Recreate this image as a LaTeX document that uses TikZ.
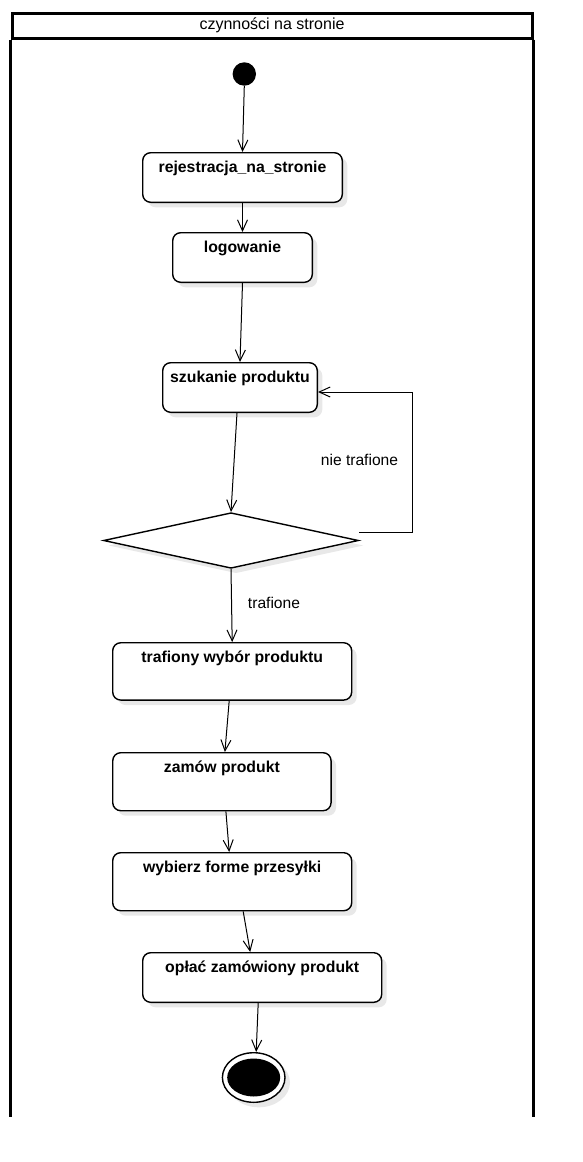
\documentclass[tikz,border=0pt]{standalone}
\usepackage{fontspec}
\setmainfont{Liberation Sans}
\usetikzlibrary{shapes.geometric,arrows.meta,shadows}
\begin{document}
\begin{tikzpicture}[x=1pt,y=-1pt,
  lanestyle/.style={line width=3pt},
  actbox/.style={draw, line width=1.4pt, rounded corners=8pt, fill=white, inner sep=0pt,
    font=\fontsize{15.8}{18}\selectfont\bfseries, text height=20pt,
    drop shadow={shadow xshift=5pt, shadow yshift=-5pt, opacity=0.09, fill=black}},
  arr/.style={line width=1pt, -{Straight Barb[length=11pt,width=10pt,line width=1pt]}},
  lbl/.style={font=\fontsize{15.6}{18}\selectfont, inner sep=0pt, anchor=base}]
\useasboundingbox (0,0) rectangle (582,1162);
\fill[white] (0,0) rectangle (582,1162);

% swimlane
\node[lanestyle, draw, minimum width=520pt, minimum height=25pt, inner sep=0pt,
  text height=16.3pt, text depth=8.7pt, font=\fontsize{16}{18}\selectfont] (lane) at (272,25.5) {czynności na stronie};
\draw[lanestyle] (lane.south west) -- ++(0,1077);
\draw[lanestyle] (lane.south east) -- ++(0,1077);

% start
\node[circle, fill=black, minimum size=23.4pt, inner sep=0pt] (start) at (244.3,74) {};

% activities
\node[actbox, minimum width=199.6pt, text depth=29.6pt] (reg) at (242.5,177.5) {rejestracja\_na\_stronie};
\node[actbox, minimum width=139.6pt, text depth=29.6pt] (log) at (242.5,257.5) {logowanie};
\node[actbox, minimum width=154.6pt, text depth=29.6pt] (szuk) at (240,387.5) {szukanie produktu};
\node[diamond, draw, line width=1.4pt, fill=white, minimum width=255pt, minimum height=55.6pt, inner sep=0pt,
  drop shadow={shadow xshift=5pt, shadow yshift=-5pt, opacity=0.09, fill=black}] (dec) at (231,540.5) {};
\node[actbox, minimum width=239pt, text depth=37.3pt] (traf) at (232.2,671.4) {trafiony wybór produktu};
\node[actbox, minimum width=218.3pt, text depth=38pt] (zam) at (221.9,781.7) {zamów produkt};
\node[actbox, minimum width=239pt, text depth=38pt] (wyb) at (232.2,881.7) {wybierz forme przesyłki};
\node[actbox, minimum width=239pt, text depth=29.6pt] (opl) at (262.2,977.5) {opłać zamówiony produkt};

% end
\node[ellipse, draw, line width=1.4pt, fill=white, minimum width=62.6pt, minimum height=49.6pt, inner sep=0pt,
  drop shadow={shadow xshift=5pt, shadow yshift=-5pt, opacity=0.09, fill=black}] (endo) at (253.7,1077.5) {};
\node[ellipse, fill=black, minimum width=53pt, minimum height=38pt, inner sep=0pt] (endi) at (253.7,1077.5) {};

% connectors
\draw[arr] (start.south) -- (reg.north);
\draw[arr] (reg.south) -- (log.north);
\draw[arr] (log.south) -- (szuk.north);
\draw[arr] ([xshift=-3pt]szuk.south) -- (dec.north);
\draw[arr] ([yshift=8pt]dec.east) -- ++(53,0) |- ([yshift=-4.5pt]szuk.east);
\node[lbl] (nt) at (359.5,465) {nie trafione};
\draw[arr] (dec.south) -- (traf.north);
\node[lbl] (tr) at (274,608) {trafione};
\draw[arr] ([xshift=-3pt]traf.south) -- ([xshift=3pt]zam.north);
\draw[arr] ([xshift=4pt]zam.south) -- ([xshift=-3pt]wyb.north);
\draw[arr] ([xshift=11pt]wyb.south) -- ([xshift=-12pt]opl.north);
\draw[arr] ([xshift=-4pt]opl.south) -- ([xshift=2.5pt]endo.north);
\end{tikzpicture}
\end{document}
